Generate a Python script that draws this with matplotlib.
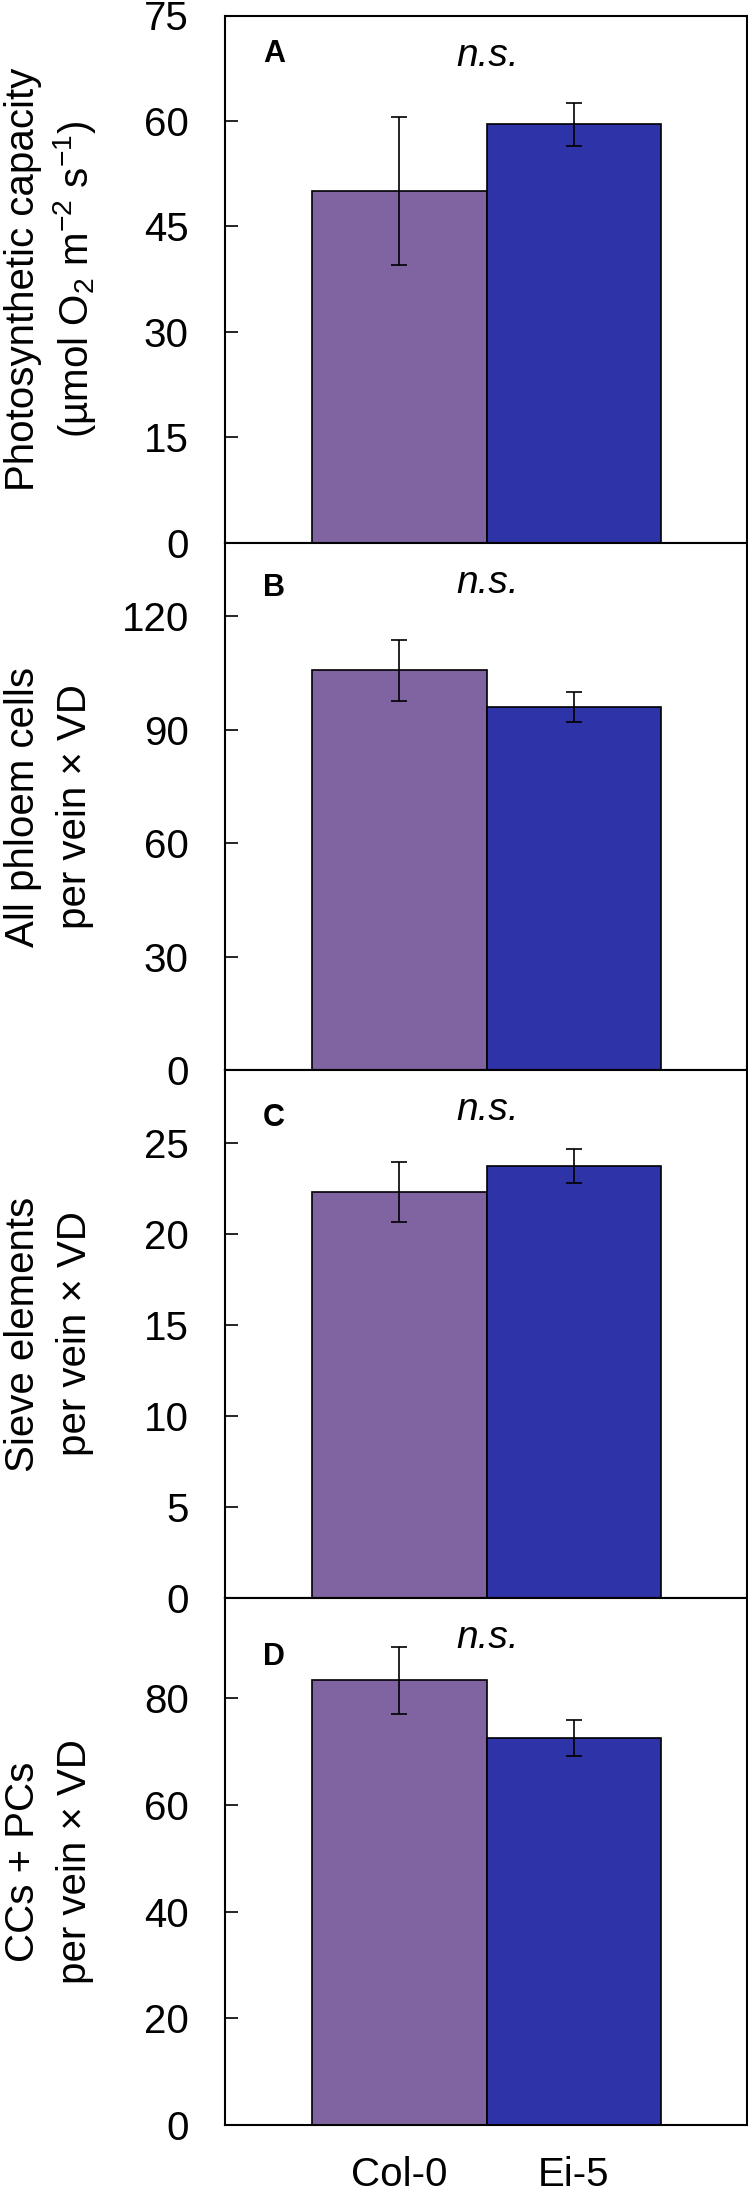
import numpy as np
import matplotlib
matplotlib.use('Agg')
from matplotlib import pyplot as plt

plt.rcParams['font.family'] = ['Liberation Sans', 'DejaVu Sans']
plt.rcParams['mathtext.fontset'] = 'custom'
plt.rcParams['mathtext.rm'] = 'Liberation Sans'
plt.rcParams['mathtext.it'] = 'Liberation Sans:italic'

# data
genotypes = ['Col-0', 'Ei-5']
bar_colors = ['#8064a2', '#2f33a8']

photo_cap = [50.0, 59.5]
photo_cap_err = [10.5, 3.1]
phloem_cells = [105.6, 96.0]
phloem_cells_err = [8.0, 4.0]
sieve_elems = [22.3, 23.75]
sieve_elems_err = [1.65, 0.95]
cc_pc = [83.4, 72.6]
cc_pc_err = [6.3, 3.3]

panel_letters = ['A', 'B', 'C', 'D']
ylabels = [
    ('Photosynthetic capacity', r'(µmol O$_2$ m$^{-2}$ s$^{-1}$)'),
    ('All phloem cells', 'per vein × VD'),
    ('Sieve elements', 'per vein × VD'),
    ('CCs + PCs', 'per vein × VD'),
]
yticks = [np.arange(0, 76, 15), np.arange(0, 121, 30), np.arange(0, 26, 5), np.arange(0, 81, 20)]
ytops = [75, 139.3, 29, 98.9]
values = [photo_cap, phloem_cells, sieve_elems, cc_pc]
errors = [photo_cap_err, phloem_cells_err, sieve_elems_err, cc_pc_err]

W, H = 748, 2191
fig = plt.figure(figsize=(W / 100, H / 100), dpi=100)

left, right = 225, 746.5
top0, panel_h = 15.5, 527.4
letter_drop = [47, 53, 56, 67]  # px below axes top (baseline)

x = np.arange(len(genotypes))
for i in range(4):
    top = top0 + i * panel_h
    ax = fig.add_axes([left / W, 1 - (top + panel_h) / H, (right - left) / W, panel_h / H])
    ax.bar(x, values[i], width=1.0, color=bar_colors, edgecolor='black', linewidth=1.2,
           yerr=errors[i], capsize=6, error_kw=dict(elinewidth=1.2, capthick=1.2, ecolor='black'),
           zorder=2)
    ax.set_xlim(-1.0, 1.99)
    ax.set_ylim(0, ytops[i])
    ax.set_yticks(yticks[i])
    ax.tick_params(axis='y', direction='in', length=9, width=1.2, pad=26, labelsize=29)
    ax.tick_params(axis='x', length=0, pad=22, labelsize=29)
    if i == 3:
        ax.set_xticks(x)
        ax.set_xticklabels(genotypes)
    else:
        ax.set_xticks([])
    for sp in ax.spines.values():
        sp.set_linewidth(1.5)

    ax.text(0.073, 1 - letter_drop[i] / panel_h, panel_letters[i], transform=ax.transAxes,
            fontsize=22, fontweight='bold', ha='left', va='baseline')
    ax.text(0.503, 1 - 50 / panel_h, 'n.s.', transform=ax.transAxes,
            fontsize=28, style='italic', ha='center', va='baseline')

    yc = 1 - (top + panel_h / 2) / H
    fig.text(23 / W, yc, ylabels[i][0], rotation=90, ha='center', va='center', fontsize=29)
    fig.text(75 / W, yc, ylabels[i][1], rotation=90, ha='center', va='center', fontsize=29)

fig.savefig('out.png', dpi=100)
